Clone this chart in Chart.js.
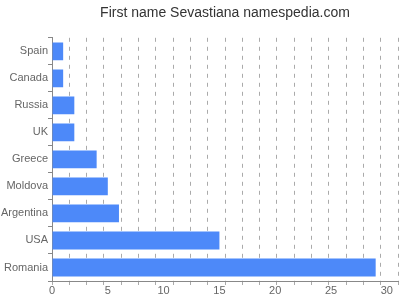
<!DOCTYPE html>
<html>
<head>
<meta charset="utf-8">
<script src="https://cdn.jsdelivr.net/npm/chart.js@4/dist/chart.umd.min.js"></script>
<style>
  html, body { margin: 0; padding: 0; background: #fff; }
  #wrap { width: 400px; height: 300px; }
</style>
</head>
<body>
<div id="wrap"><canvas id="chart" width="400" height="300"></canvas></div>
<script>
const titleText = 'First name Sevastiana namespedia.com';
const countries = ['Spain', 'Canada', 'Russia', 'UK', 'Greece', 'Moldova', 'Argentina', 'USA', 'Romania'];
const counts = [1, 1, 2, 2, 4, 5, 6, 15, 29];
const axisMax = 31;
const labelStep = 5;
const gridLines = 20; // dashed grid splits the axis into 20 equal parts

const ctx = document.getElementById('chart').getContext('2d');

new Chart(ctx, {
  type: 'bar',
  data: {
    labels: countries,
    datasets: [{
      data: counts,
      backgroundColor: '#4D89F9',
      borderWidth: 0,
      barPercentage: 0.66,
      categoryPercentage: 1
    }]
  },
  options: {
    indexAxis: 'y',
    responsive: false,
    animation: false,
    layout: { padding: { left: 0, right: 2, top: 0, bottom: 0 } },
    plugins: {
      legend: { display: false },
      tooltip: { enabled: false },
      title: {
        display: true,
        text: titleText,
        fullSize: false,
        color: '#333',
        font: { family: 'Liberation Sans, Arial, sans-serif', size: 14, weight: 'normal' },
        padding: { top: 5, bottom: 16 }
      }
    },
    scales: {
      // grid only: dashed lines + small tick marks under the axis
      xgrid: {
        type: 'linear',
        position: 'bottom',
        weight: 0,
        min: 0,
        max: axisMax,
        afterBuildTicks: scale => {
          const t = [];
          for (let i = 0; i <= gridLines; i++) t.push({ value: axisMax * i / gridLines });
          scale.ticks = t;
        },
        afterFit: scale => { scale.height = 4; },
        ticks: { display: false },
        grid: { display: true, color: '#aaa', lineWidth: 1, drawTicks: true, tickLength: 4 },
        border: { display: true, color: '#888', dash: [4, 5] }
      },
      // labels only: 0, 5, 10 ...
      x: {
        type: 'linear',
        position: 'bottom',
        weight: 1,
        min: 0,
        max: axisMax,
        afterBuildTicks: scale => {
          const t = [];
          for (let v = 0; v <= axisMax; v += labelStep) t.push({ value: v });
          scale.ticks = t;
        },
        afterFit: scale => { scale.height = 15; },
        ticks: {
          padding: -1,
          color: '#666',
          font: { family: 'Liberation Sans, Arial, sans-serif', size: 11 }
        },
        grid: { display: false, drawTicks: false },
        border: { display: false }
      },
      y: {
        afterFit: scale => { scale.width = 52; },
        ticks: {
          padding: 0,
          color: '#666',
          font: { family: 'Liberation Sans, Arial, sans-serif', size: 11 }
        },
        grid: { display: true, drawOnChartArea: false, drawTicks: true, tickLength: 4, color: '#888' },
        border: { display: true, color: '#888' }
      }
    }
  }
});
</script>
</body>
</html>
